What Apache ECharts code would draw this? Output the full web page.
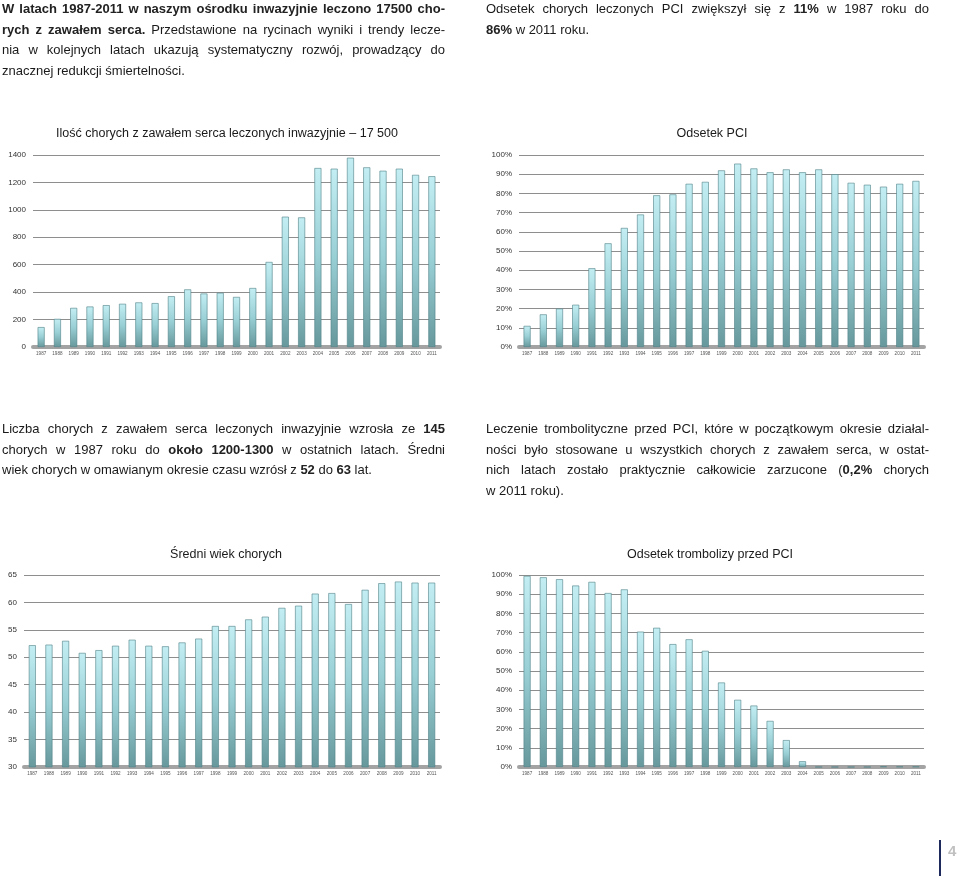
<!DOCTYPE html>
<html><head><meta charset="utf-8">
<script src="https://cdn.jsdelivr.net/npm/echarts@6/dist/echarts.min.js"></script>
<style>
html,body{margin:0;padding:0;background:#fff;width:960px;height:876px;overflow:hidden;}
#chart{position:absolute;left:0;top:0;width:960px;height:876px;}
.p{position:absolute;font-family:"Liberation Sans",Arial,sans-serif;font-size:13px;color:#1a1a1a;line-height:20.7px;}
.p div{text-align:justify;text-align-last:justify;white-space:nowrap;}
.p div.l{text-align-last:left;}
.p b{font-weight:bold;color:#222;}
#pg{position:absolute;left:948px;top:842px;font-family:"Liberation Sans",Arial,sans-serif;font-weight:bold;font-size:15px;color:#c0c0c0;}
#bar{position:absolute;left:939px;top:840px;width:2px;height:36px;background:#1f2a5c;}
</style></head>
<body>
<div id="chart"></div>
<div class="p" style="left:2px;top:-1px;width:443px;">
<div><b>W latach 1987-2011 w naszym ośrodku inwazyjnie leczono 17500 cho-</b></div>
<div><b>rych z zawałem serca.</b> Przedstawione na rycinach wyniki i trendy lecze-</div>
<div>nia w kolejnych latach ukazują systematyczny rozwój, prowadzący do</div>
<div class="l">znacznej redukcji śmiertelności.</div>
</div>
<div class="p" style="left:486px;top:-1px;width:443px;">
<div>Odsetek chorych leczonych PCI zwiększył się z <b>11%</b> w 1987 roku do</div>
<div class="l"><b>86%</b> w 2011 roku.</div>
</div>
<div class="p" style="left:2px;top:419px;width:443px;">
<div>Liczba chorych z zawałem serca leczonych inwazyjnie wzrosła ze <b>145</b></div>
<div>chorych w 1987 roku do <b>około 1200-1300</b> w ostatnich latach. Średni</div>
<div class="l">wiek chorych w omawianym okresie czasu wzrósł z <b>52</b> do <b>63</b> lat.</div>
</div>
<div class="p" style="left:486px;top:419px;width:443px;">
<div>Leczenie trombolityczne przed PCI, które w początkowym okresie działal-</div>
<div>ności było stosowane u wszystkich chorych z zawałem serca, w ostat-</div>
<div>nich latach zostało praktycznie całkowicie zarzucone (<b>0,2%</b> chorych</div>
<div class="l">w 2011 roku).</div>
</div>
<div id="bar"></div>
<div id="pg">4</div>
<script>
const years = ['1987','1988','1989','1990','1991','1992','1993','1994','1995','1996','1997','1998','1999','2000','2001','2002','2003','2004','2005','2006','2007','2008','2009','2010','2011'];
const patientCounts = [145,205,285,295,305,315,325,320,370,420,390,395,365,430,620,950,945,1305,1300,1380,1310,1285,1300,1255,1245];
const pciPercent = [11,17,20,22,41,54,62,69,79,79.5,85,86,92,95.5,93,91,92.5,91,92.5,90,85.5,84.5,83.5,85,86.5];
const meanAge = [52.2,52.3,53,50.8,51.3,52.1,53.2,52.1,52,52.7,53.4,55.7,55.7,56.9,57.4,59,59.4,61.6,61.7,59.7,62.3,63.5,63.8,63.6,63.6];
const thrombolysisPercent = [99.5,98.8,97.8,94.5,96.4,90.6,92.5,70.5,72.5,64,66.5,60.5,44,35,32,24,14,3,0,0,0,0,0.3,0.2,0.2];
const titles = ['Ilość chorych z zawałem serca leczonych inwazyjnie – 17 500','Odsetek PCI','Średni wiek chorych','Odsetek trombolizy przed PCI'];

const chart = echarts.init(document.getElementById('chart'), null, {renderer:'canvas'});
const grids = [
  {left:33, top:155, width:407, height:192},
  {left:519, top:155, width:405, height:192},
  {left:24, top:575, width:416, height:192},
  {left:519, top:575, width:405, height:192}
];
const plain = v => String(v);
const pct = v => v + '%';
const yDefs = [
  {min:0,max:1400,interval:200,fmt:plain},
  {min:0,max:100,interval:10,fmt:pct},
  {min:30,max:65,interval:5,fmt:plain},
  {min:0,max:100,interval:10,fmt:pct}
];
const datas = [patientCounts, pciPercent, meanAge, thrombolysisPercent];
const titleCenters = [[227,127],[712,127],[226,548],[710,548]];
const barColor = new echarts.graphic.LinearGradient(0,0,0,1,[
  {offset:0,color:'#c3eef3'},{offset:0.5,color:'#98cfd5'},{offset:1,color:'#66989c'}]);

const option = {
  animation:false,
  backgroundColor:'#fff',
  title: titles.map((t,i)=>({text:t,left:titleCenters[i][0],top:titleCenters[i][1],textAlign:'center',padding:0,
    textStyle:{fontFamily:'Liberation Sans, Arial, sans-serif',fontSize:12.5,fontWeight:'normal',color:'#1a1a1a'}})),
  grid: grids,
  xAxis: grids.map((g,i)=>({type:'category',gridIndex:i,data:years,
    axisTick:{show:false},
    axisLine:{show:true,lineStyle:{color:'#a3a3a3',width:4}},
    axisLabel:{interval:0,fontSize:4.6,color:'#555',margin:4,fontFamily:'Liberation Sans, Arial, sans-serif'}})),
  yAxis: yDefs.map((d,i)=>({type:'value',gridIndex:i,min:d.min,max:d.max,interval:d.interval,
    axisLine:{show:false},axisTick:{show:false},
    splitLine:{show:true,lineStyle:{color:'#8e8e8e',width:1}},
    axisLabel:{formatter:d.fmt,fontSize:8,color:'#333',margin:7,fontFamily:'Liberation Sans, Arial, sans-serif'}})),
  series: datas.map((arr,i)=>({type:'bar',xAxisIndex:i,yAxisIndex:i,data:arr,barWidth:7,
    itemStyle:{color:barColor,borderColor:'#4f8286',borderWidth:0.6}}))
};
chart.setOption(option);
</script>
</body></html>
